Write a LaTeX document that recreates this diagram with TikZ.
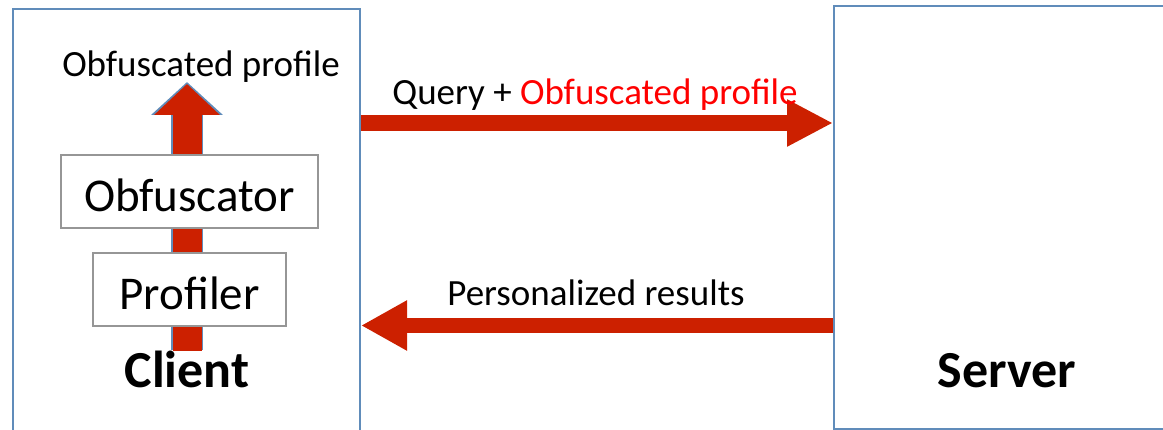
\documentclass[tikz,border=0pt]{standalone}
\usepackage{fontspec}
\setmainfont{Carlito}
\usetikzlibrary{arrows.meta, backgrounds}
\definecolor{boxblue}{RGB}{96,140,186}
\definecolor{boxgray}{RGB}{150,150,150}
\definecolor{flowred}{RGB}{204,32,0}
\tikzset{
  party/.style={draw=boxblue, line width=2pt, inner sep=0pt},
  module/.style={draw=boxgray, line width=2pt, fill=white, inner sep=0pt, text height=41pt, text depth=0pt, font=\fontsize{47}{56}\selectfont},
  partyname/.style={anchor=base, font=\fontsize{52}{62}\selectfont\bfseries},
  msg/.style={anchor=base, font=\fontsize{37}{44}\selectfont},
  flow/.style={flowred, line width=16pt, -{Triangle[length=46pt, width=44pt]}},
}

\begin{document}
\begin{tikzpicture}[x=1pt, y=-1pt]
    \useasboundingbox (0,0) rectangle (1163,430);
    \clip (0,0) rectangle (1163,430);

    % Client and server
    \node[party, minimum width=347, minimum height=436] (client) at (186.5,227) {};
    \node[party, minimum width=332, minimum height=423] (server) at (1000,217.5) {};
    \node[partyname] (clientname) at (187,388) {Client};
    \node[partyname] (servername) at (1007,388) {Server};

    % Modules inside the client
    \node[module, minimum width=257, minimum height=73] (obf) at (189.5,191.5) {Obfuscator};
    \node[module, minimum width=193, minimum height=73] (prof) at (189.5,289.5) {Profiler};
    \node[msg] (out) at (201,77) {Obfuscated profile};

    % Up arrow (behind the modules)
    \coordinate (upstart) at (187,350);
    \coordinate (uptip) at (187,82);
    \begin{scope}[on background layer]
        \draw[boxblue, line width=32pt, -{Triangle[length=33pt, width=70pt]}] (upstart) -- (uptip);
        \draw[flowred, line width=29pt, -{Triangle[length=31pt, width=64pt]}] ([yshift=-1.5pt]upstart) -- ([yshift=-2pt]uptip);
    \end{scope}

    % Messages
    \coordinate (qy) at (0,123);
    \coordinate (ry) at (0,325.5);
    \draw[flow] (client.east |- qy) -- (server.west |- qy);
    \node[msg] (query) at (595,105) {Query + \textcolor{red}{Obfuscated profile}};
    \draw[flow, line width=15pt, -{Triangle[length=46pt, width=47pt]}] (server.west |- ry) -- (client.east |- ry);
    \node[msg] (results) at (596,306) {Personalized results};
\end{tikzpicture}
\end{document}
